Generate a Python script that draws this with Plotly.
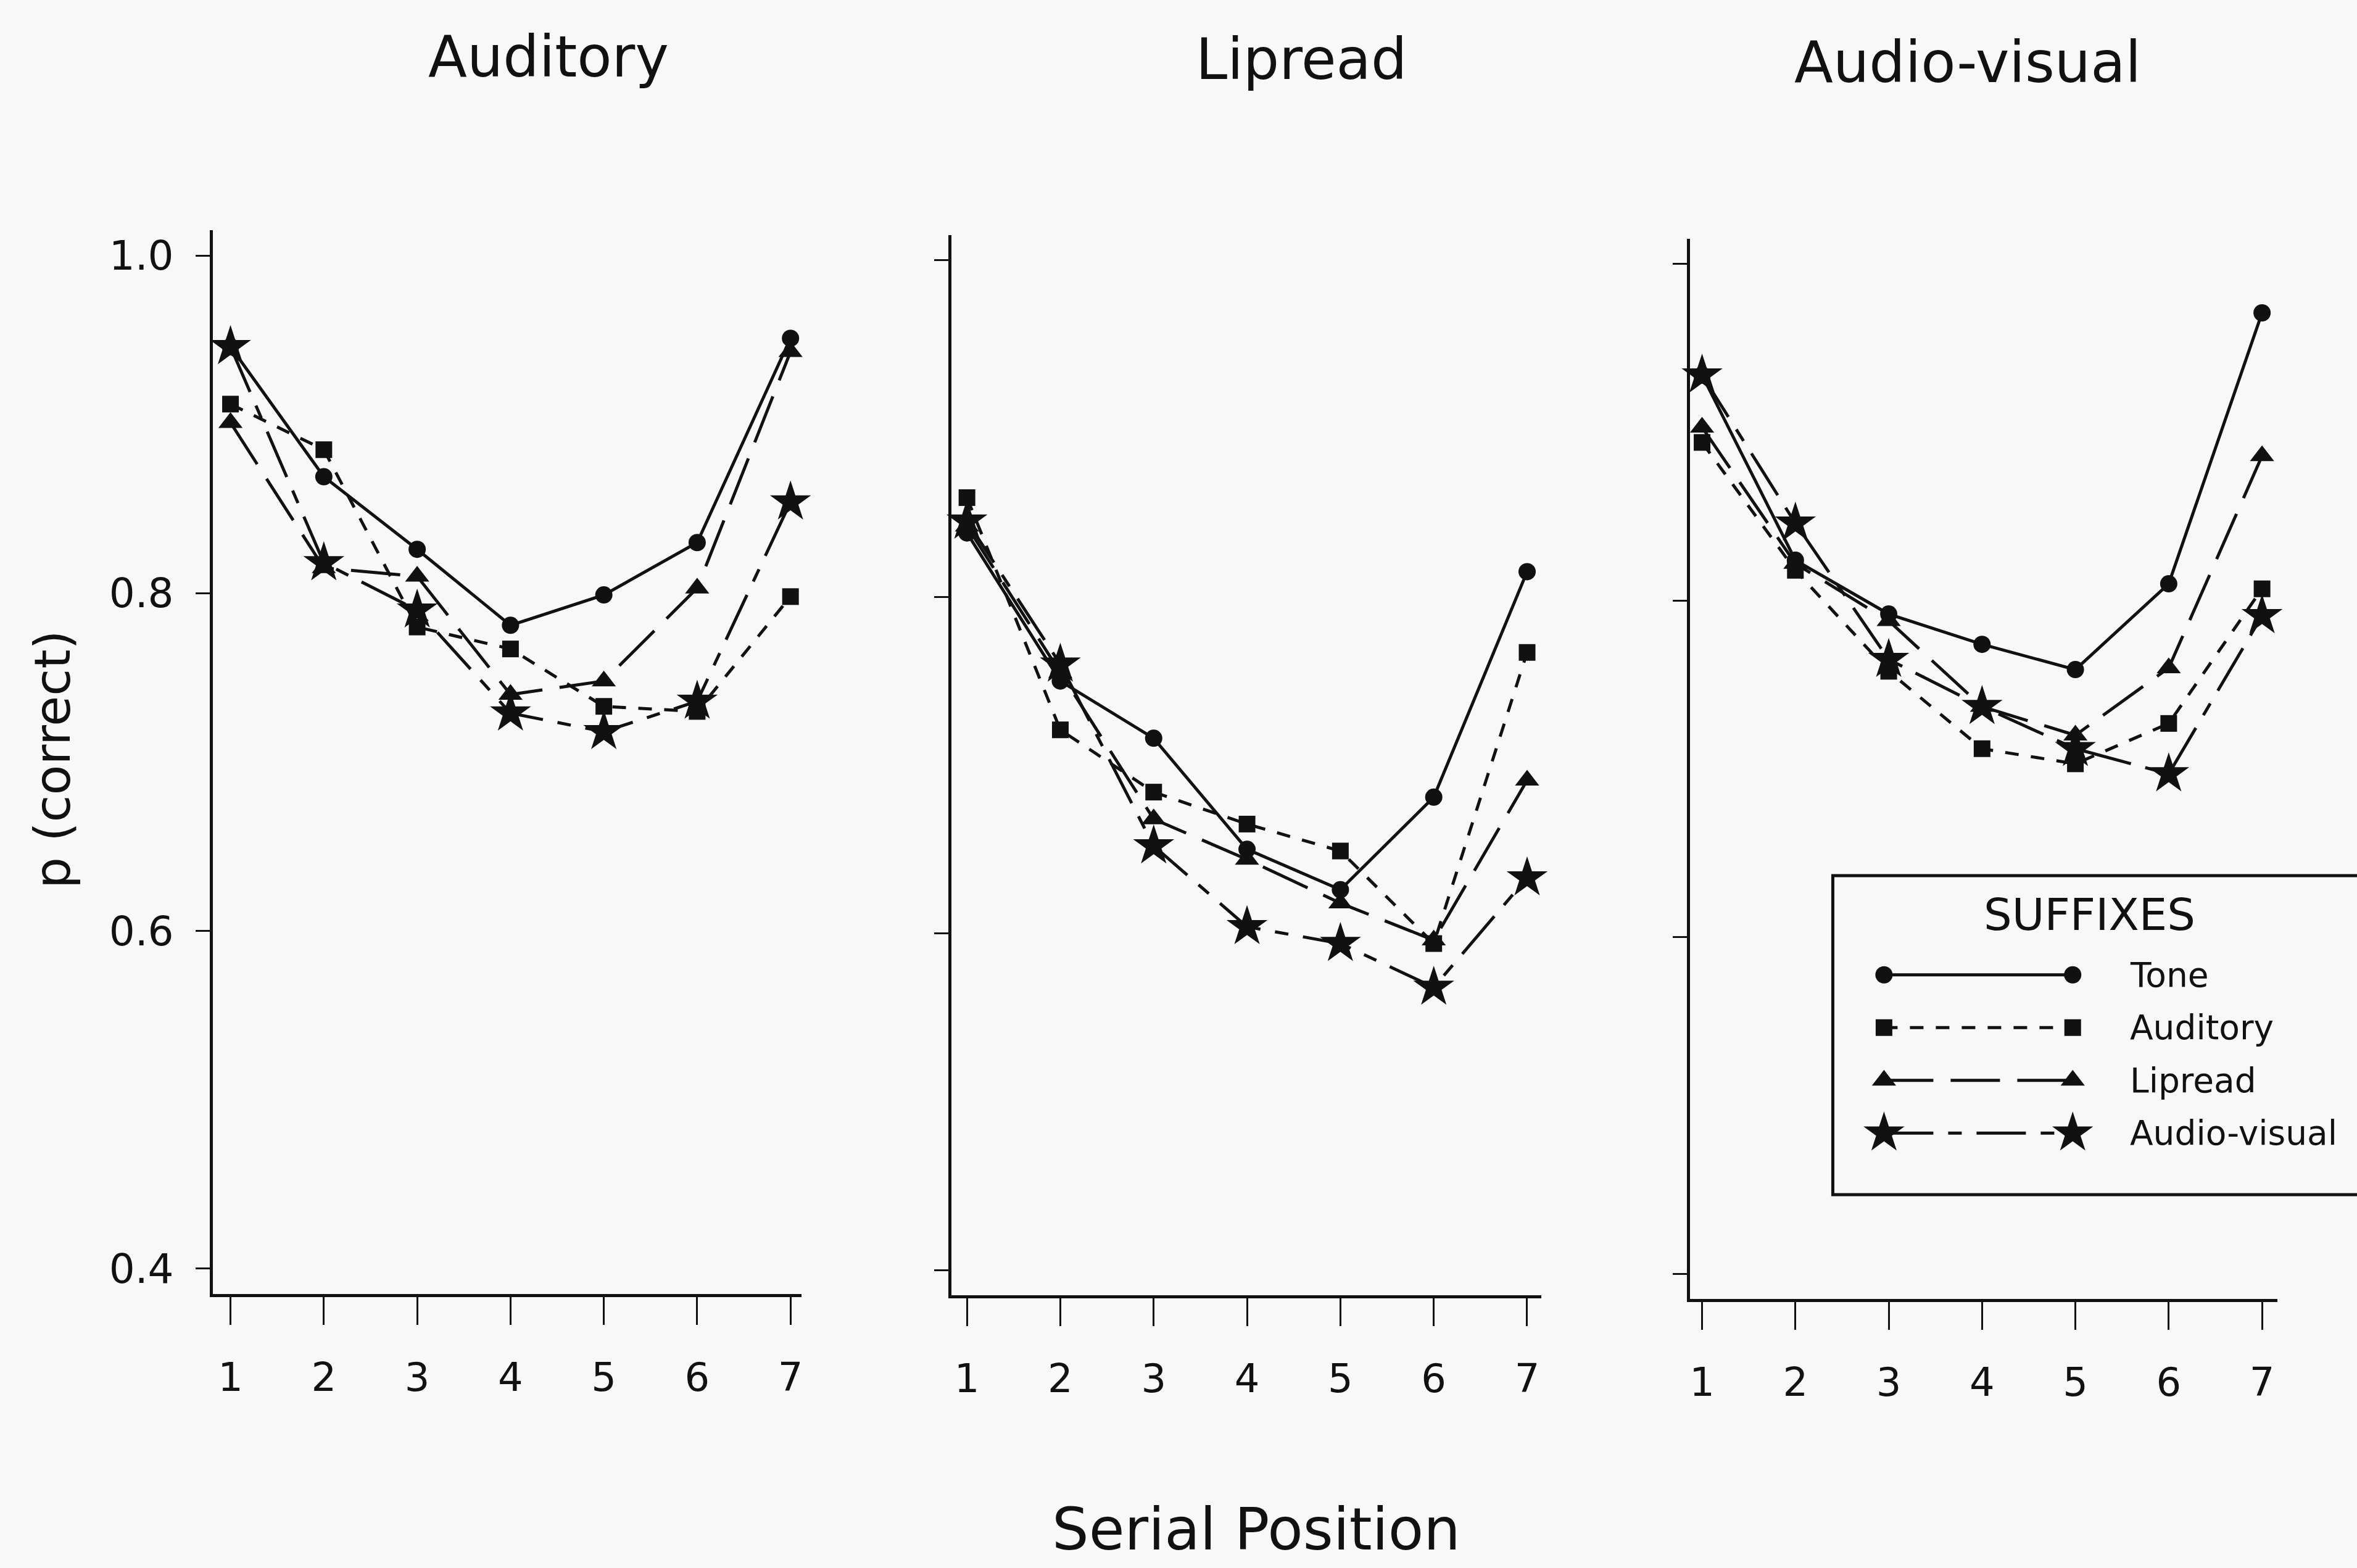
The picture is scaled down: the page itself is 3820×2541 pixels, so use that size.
import plotly.graph_objects as go

# ---------------- data ----------------
positions = [1, 2, 3, 4, 5, 6, 7]
tick_labels_x = ["1", "2", "3", "4", "5", "6", "7"]
tick_vals_y = [0.4, 0.6, 0.8, 1.0]
tick_labels_y = ["0.4", "0.6", "0.8", "1.0"]
panel_titles = ["Auditory", "Lipread", "Audio-visual"]
suffixes = ["Tone", "Auditory", "Lipread", "Audio-visual"]

# Panel 1: Auditory list
aud_tone = [0.946, 0.869, 0.826, 0.781, 0.799, 0.830, 0.951]
aud_auditory = [0.912, 0.885, 0.780, 0.767, 0.733, 0.730, 0.798]
aud_lipread = [0.901, 0.815, 0.810, 0.740, 0.748, 0.803, 0.943]
aud_av = [0.946, 0.818, 0.790, 0.729, 0.718, 0.736, 0.854]

# Panel 2: Lipread list
lip_tone = [0.838, 0.750, 0.716, 0.650, 0.626, 0.681, 0.815]
lip_auditory = [0.859, 0.721, 0.684, 0.665, 0.649, 0.594, 0.767]
lip_lipread = [0.842, 0.755, 0.668, 0.644, 0.618, 0.596, 0.691]
lip_av = [0.845, 0.760, 0.652, 0.604, 0.594, 0.568, 0.633]

# Panel 3: Audio-visual list
av_tone = [0.934, 0.824, 0.792, 0.774, 0.759, 0.810, 0.971]
av_auditory = [0.894, 0.818, 0.758, 0.712, 0.703, 0.727, 0.807]
av_lipread = [0.903, 0.822, 0.788, 0.737, 0.720, 0.760, 0.886]
av_av = [0.934, 0.846, 0.765, 0.737, 0.712, 0.697, 0.791]

panel_series = [
    [aud_tone, aud_auditory, aud_lipread, aud_av],
    [lip_tone, lip_auditory, lip_lipread, lip_av],
    [av_tone, av_auditory, av_lipread, av_av],
]

# legend sample rows (index per suffix) and sample endpoints
legend_rows = [0, 1, 2, 3]
legend_ends = [0, 1]

# ---------------- styles ----------------
W, H = 3820, 2541
INK = "#111111"
FONT = "DejaVu Sans"

styles = [
    dict(dash="solid", symbol="circle", size=28),
    dict(dash="22px,20px", symbol="square", size=27),
    dict(dash="80px,28px", symbol="triangle-up", size=34),
    dict(dash="80px,24px,22px,24px", symbol="star", size=50),
]

# pixel geometry of panels: (x_left, x_right, y_top, y_bottom), x-range
panel_px = [
    (345, 1300, 373, 2097, [0.81, 7.12]),
    (1543, 2499, 381, 2099, [0.835, 7.15]),
    (2740, 3693, 387, 2105, [0.868, 7.165]),
]
y_range = [0.385, 1.015]

fig = go.Figure()

for p, series in enumerate(panel_series):
    ax = "" if p == 0 else str(p + 1)
    for s, vals in enumerate(series):
        st = styles[s]
        fig.add_trace(go.Scatter(
            x=positions, y=vals, mode="lines+markers",
            name=suffixes[s], showlegend=False,
            xaxis="x" + ax, yaxis="y" + ax,
            line=dict(color=INK, width=5, dash=st["dash"]),
            marker=dict(symbol=st["symbol"], size=st["size"], color=INK,
                        line=dict(width=0)),
            cliponaxis=False,
        ))

layout_axes = {}
for p, (xl, xr, yt, yb, xr_rng) in enumerate(panel_px):
    ax = "" if p == 0 else str(p + 1)
    layout_axes["xaxis" + ax] = dict(
        domain=[xl / W, xr / W], range=xr_rng, anchor="y" + ax,
        showline=True, linecolor=INK, linewidth=5, showgrid=False, zeroline=False,
        ticks="outside", ticklen=45, tickwidth=3, tickcolor=INK,
        tickvals=positions, ticktext=tick_labels_x, ticklabelstandoff=30,
        tickfont=dict(family=FONT, size=64, color=INK),
    )
    layout_axes["yaxis" + ax] = dict(
        domain=[1 - yb / H, 1 - yt / H], range=y_range, anchor="x" + ax,
        showline=True, linecolor=INK, linewidth=5, showgrid=False, zeroline=False,
        ticks="outside", ticklen=23, tickwidth=3, tickcolor=INK,
        tickvals=tick_vals_y, ticktext=tick_labels_y,
        showticklabels=(p == 0), ticklabelstandoff=22,
        tickfont=dict(family=FONT, size=66, color=INK),
    )

# legend sample axes
legend_top_px, legend_bot_px = 1537, 1879
layout_axes["xaxis4"] = dict(domain=[3055 / W, 3361 / W], range=[0, 1], anchor="y4",
                             visible=False, fixedrange=True)
layout_axes["yaxis4"] = dict(domain=[1 - legend_bot_px / H, 1 - legend_top_px / H],
                             range=[3.5, -0.5], anchor="x4", visible=False, fixedrange=True)

for s, row in enumerate(legend_rows):
    st = styles[s]
    fig.add_trace(go.Scatter(
        x=legend_ends, y=[row, row], mode="lines+markers", showlegend=False,
        xaxis="x4", yaxis="y4", hoverinfo="skip",
        line=dict(color=INK, width=5, dash=st["dash"]),
        marker=dict(symbol=st["symbol"], size=st["size"], color=INK, line=dict(width=0)),
        cliponaxis=False,
    ))

annotations = []
title_pos = [(889, 93), (2110, 97), (3191, 102)]
for t, (tx, ty) in zip(panel_titles, title_pos):
    annotations.append(dict(text=t, x=tx / W, y=1 - ty / H, xref="paper", yref="paper",
                            xanchor="center", yanchor="middle", showarrow=False,
                            font=dict(family=FONT, size=92, color=INK)))
annotations.append(dict(text="Serial Position", x=2037 / W, y=1 - 2478 / H,
                        xref="paper", yref="paper", xanchor="center", yanchor="middle",
                        showarrow=False, font=dict(family=FONT, size=94, color=INK)))
annotations.append(dict(text="p (correct)", x=85 / W, y=1 - 1230 / H, textangle=-90,
                        xref="paper", yref="paper", xanchor="center", yanchor="middle",
                        showarrow=False, font=dict(family=FONT, size=80, color=INK)))
annotations.append(dict(text="SUFFIXES", x=3388 / W, y=1 - 1482 / H,
                        xref="paper", yref="paper", xanchor="center", yanchor="middle",
                        showarrow=False, font=dict(family=FONT, size=72, color=INK)))
for s, row in enumerate(legend_rows):
    annotations.append(dict(text=suffixes[s], x=3452 / W, y=row, xref="paper", yref="y4",
                            xanchor="left", yanchor="middle", showarrow=False,
                            font=dict(family=FONT, size=55, color=INK)))

shapes = [dict(type="rect", xref="paper", yref="paper",
               x0=2972 / W, x1=3840 / W, y0=1 - 1936 / H, y1=1 - 1419 / H,
               line=dict(color=INK, width=5), fillcolor="rgba(0,0,0,0)")]

fig.update_layout(
    width=W, height=H, margin=dict(l=0, r=0, t=0, b=0),
    paper_bgcolor="#f8f8f8", plot_bgcolor="rgba(0,0,0,0)",
    showlegend=False, annotations=annotations, shapes=shapes,
    font=dict(family=FONT, color=INK),
    **layout_axes,
)

fig.write_html("out.html", config={"displayModeBar": False},
               post_script="document.body.style.margin='0';document.body.style.overflow='hidden';")
